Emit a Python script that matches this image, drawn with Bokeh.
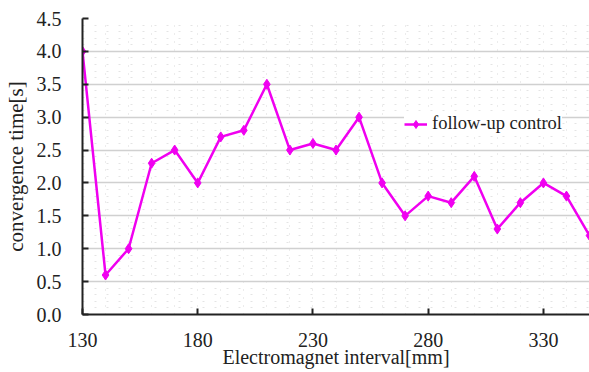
from bokeh.plotting import figure
from bokeh.models import FixedTicker, Range1d, Legend, LegendItem, NumeralTickFormatter
from bokeh.embed import file_html
from bokeh.resources import INLINE

interval_mm = [130, 140, 150, 160, 170, 180, 190, 200, 210, 220, 230, 240,
               250, 260, 270, 280, 290, 300, 310, 320, 330, 340, 350]
conv_time = [4.0, 0.6, 1.0, 2.3, 2.5, 2.0, 2.7, 2.8, 3.5, 2.5, 2.6, 2.5,
             3.0, 2.0, 1.5, 1.8, 1.7, 2.1, 1.3, 1.7, 2.0, 1.8, 1.2]
x_ticks = [130, 180, 230, 280, 330]
y_ticks = [0.0, 0.5, 1.0, 1.5, 2.0, 2.5, 3.0, 3.5, 4.0, 4.5]
series_name = "follow-up control"

FONT = "'Liberation Serif', 'Times New Roman', serif"
MAG = "#f000f0"

p = figure(width=589, height=372, output_backend="svg", toolbar_location=None,
           x_range=Range1d(130, 350), y_range=Range1d(0, 4.5),
           min_border_left=82, min_border_right=0, min_border_top=18,
           min_border_bottom=58)
p.outline_line_color = None
p.background_fill_color = "white"
p.border_fill_color = "white"

xt = FixedTicker(ticks=x_ticks, minor_ticks=list(range(130, 351, 10)))
yt = FixedTicker(ticks=y_ticks, minor_ticks=[i / 10 for i in range(0, 46)])
p.xaxis.ticker = xt
p.yaxis.ticker = yt
p.yaxis.formatter = NumeralTickFormatter(format="0.0")

for ax in (p.xaxis, p.yaxis):
    ax.axis_line_color = "#222222"
    ax.axis_line_width = 2
    ax.major_tick_line_color = "#222222"
    ax.major_tick_line_width = 2
    ax.major_tick_in = 6
    ax.major_tick_out = 0
    ax.minor_tick_line_color = None
    ax.major_label_text_font = FONT
    ax.major_label_text_font_size = "20px"
    ax.major_label_text_color = "#222222"
    ax.axis_label_text_font = FONT
    ax.axis_label_text_font_style = "normal"
    ax.axis_label_text_color = "#222222"

p.xaxis.axis_label_text_font_size = "20px"
p.yaxis.axis_label_text_font_size = "21px"
p.xaxis.major_label_standoff = 14
p.yaxis.major_label_standoff = 17
p.xaxis.axis_label = "Electromagnet interval[mm]"
p.yaxis.axis_label = "convergence time[s]"
p.xaxis.axis_label_standoff = -4
p.yaxis.axis_label_standoff = 6

p.xgrid.grid_line_color = None
p.xgrid.minor_grid_line_color = "#d8d8d8"
p.xgrid.minor_grid_line_dash = "1 7"
p.xgrid.minor_grid_line_width = 1
p.ygrid.grid_line_color = "#d0d0d0"
p.ygrid.grid_line_width = 1.5
p.ygrid.minor_grid_line_color = "#e4e4e4"
p.ygrid.minor_grid_line_dash = "2 10"

ln = p.line(interval_mm, conv_time, line_color=MAG, line_width=2.5)
mk = p.scatter(interval_mm, conv_time, marker="diamond", size=10,
               fill_color=MAG, line_color=MAG)

legend = Legend(items=[LegendItem(label=series_name, renderers=[ln, mk])],
                location=(322, 180), border_line_color=None,
                background_fill_color="white", background_fill_alpha=1.0,
                label_text_font=FONT, label_text_font_size="18.5px",
                label_text_color="#222222", glyph_width=23, padding=4,
                label_standoff=5, margin=0)
p.add_layout(legend, "center")

open("out.html", "w").write(file_html(p, INLINE))
